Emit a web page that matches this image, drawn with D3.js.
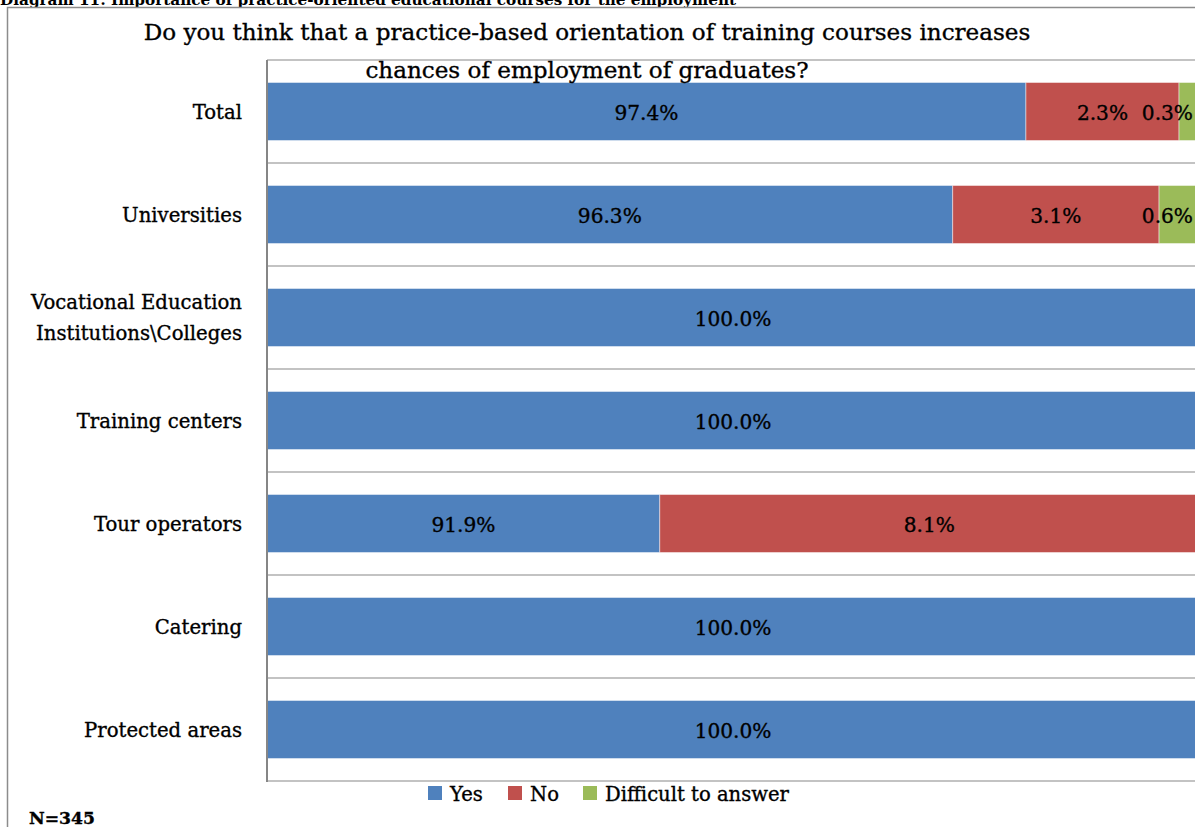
<!DOCTYPE html>
<html>
<head>
<meta charset="utf-8">
<script src="https://cdn.jsdelivr.net/npm/d3@7"></script>
<style>
  html, body { margin: 0; padding: 0; background: #fff; overflow: hidden; }
  svg { display: block; }
  text { font-family: "DejaVu Serif", "Liberation Serif", serif; fill: #000; }
  text.heavy { stroke: #000; stroke-width: 0.35px; }
</style>
</head>
<body>
<svg id="chart" width="1195" height="827"></svg>
<script>
// Survey answers per respondent group (percent of respondents)
const categories = ["Total", "Universities", "Vocational Education\nInstitutions\\Colleges",
  "Training centers", "Tour operators", "Catering", "Protected areas"];
const yesValues = [97.4, 96.3, 100.0, 100.0, 91.9, 100.0, 100.0];
const noValues = [2.3, 3.1, 0, 0, 8.1, 0, 0];
const difficultValues = [0.3, 0.6, 0, 0, 0, 0, 0];
const seriesNames = ["Yes", "No", "Difficult to answer"];
const seriesColors = ["#4F81BD", "#C0504D", "#9BBB59"];
const axisDomain = [86, 100];

const caption = "Diagram 11: Importance of practice-oriented educational courses for the employment";
const titleLines = ["Do you think that a practice-based orientation of training courses increases",
  "chances of employment of graduates?"];
const sampleNote = "N=345";

const svg = d3.select("#chart");
const plot = { left: 267, top: 60, right: 1199, bottom: 781 };

// Font size that makes a string span a given width
function fitSize(str, width, weight) {
  const probe = svg.append("text").attr("font-size", 20)
    .attr("font-weight", weight || "normal").text(str);
  const w = probe.node().getComputedTextLength();
  probe.remove();
  return 20 * width / w;
}

// Caption above the chart frame
svg.append("text")
  .attr("x", 0).attr("y", 5)
  .attr("font-size", fitSize(caption, 737, "bold")).attr("font-weight", "bold")
  .text(caption);

// Chart frame
svg.append("rect")
  .attr("x", 7.5).attr("y", 7.5)
  .attr("width", 1400).attr("height", 1000)
  .attr("fill", "#fff").attr("stroke", "#8c8c8c").attr("stroke-width", 1.5);

const rows = categories.map((c, i) => ({
  category: c, Yes: yesValues[i], No: noValues[i], "Difficult to answer": difficultValues[i]
}));
const stacked = d3.stack().keys(seriesNames)(rows);

const x = d3.scaleLinear().domain(axisDomain).range([plot.left, plot.right]).clamp(true);
const y = d3.scaleBand().domain(categories).range([plot.top, plot.bottom])
  .paddingInner(0.437).paddingOuter(0.2185);
const step = y.step();

// Plot area border and category gridlines
const gridYs = d3.range(categories.length + 1).map(k => plot.top + k * step);
svg.append("g").selectAll("line").data(gridYs).join("line")
  .attr("x1", plot.left).attr("x2", plot.right + 5)
  .attr("y1", d => d).attr("y2", d => d)
  .attr("stroke", "#c3c3c3").attr("stroke-width", 2);

// Bars
const barG = svg.append("g");
stacked.forEach((layer, si) => {
  barG.selectAll(null).data(layer.filter(d => d[1] - d[0] > 0)).join("rect")
    .attr("x", d => x(d[0]))
    .attr("y", d => y(d.data.category))
    .attr("width", d => x(d[1]) - x(d[0]))
    .attr("height", y.bandwidth())
    .attr("fill", seriesColors[si])
    .attr("stroke", "rgba(255,255,255,0.45)")
    .attr("stroke-width", 1);
});

// Category axis line
svg.append("line")
  .attr("x1", plot.left).attr("x2", plot.left)
  .attr("y1", plot.top).attr("y2", plot.bottom + 1)
  .attr("stroke", "#868686").attr("stroke-width", 2);

// Value labels, centred on the visible part of each segment
const labelRight = 1193;
const labelSize = fitSize("97.4%", 64);
const labelG = svg.append("g");
stacked.forEach((layer) => {
  layer.filter(d => d[1] - d[0] > 0).forEach(d => {
    const v = d[1] - d[0];
    const cx = (x(d[0]) + x(d[1])) / 2;
    const t = labelG.append("text")
      .attr("class", "heavy")
      .attr("font-size", labelSize)
      .attr("text-anchor", "middle")
      .attr("dominant-baseline", "central")
      .attr("y", y(d.data.category) + y.bandwidth() / 2 + 1)
      .attr("x", cx)
      .text(v.toFixed(1) + "%");
    const w = t.node().getComputedTextLength();
    if (cx + w / 2 > labelRight) t.attr("x", labelRight - w / 2);
  });
});

// Category labels
const catSize = fitSize("Vocational Education", 211);
const catG = svg.append("g");
categories.forEach(c => {
  const lines = c.split("\n");
  const cy = y(c) + y.bandwidth() / 2;
  const lh = 31;
  const t = catG.append("text")
    .attr("class", "heavy")
    .attr("font-size", catSize)
    .attr("text-anchor", "end");
  lines.forEach((ln, i) => {
    t.append("tspan")
      .attr("x", 242)
      .attr("y", cy + (i - (lines.length - 1) / 2) * lh + 7)
      .text(ln);
  });
});

// Title, sized to its line width
const titleSize = fitSize(titleLines[0], 887);
const title = svg.append("g");
title.append("text").attr("class", "heavy").attr("x", 587).attr("y", 40)
  .attr("text-anchor", "middle").attr("font-size", titleSize).text(titleLines[0]);
title.append("text").attr("class", "heavy").attr("x", 587).attr("y", 78)
  .attr("text-anchor", "middle").attr("font-size", titleSize).text(titleLines[1]);

// Legend
const legendSize = fitSize(seriesNames[2], 184);
const legendItems = [
  { name: seriesNames[0], color: seriesColors[0], x: 428 },
  { name: seriesNames[1], color: seriesColors[1], x: 508 },
  { name: seriesNames[2], color: seriesColors[2], x: 583 }
];
const lg = svg.append("g");
legendItems.forEach(it => {
  lg.append("rect").attr("x", it.x).attr("y", 786).attr("width", 14).attr("height", 14)
    .attr("fill", it.color);
  lg.append("text").attr("class", "heavy").attr("x", it.x + 22).attr("y", 801)
    .attr("font-size", legendSize).text(it.name);
});

// Sample size note
svg.append("text").attr("class", "heavy").attr("x", 29).attr("y", 824)
  .attr("font-size", fitSize(sampleNote, 66, "bold"))
  .attr("font-weight", "bold").text(sampleNote);
</script>
</body>
</html>
